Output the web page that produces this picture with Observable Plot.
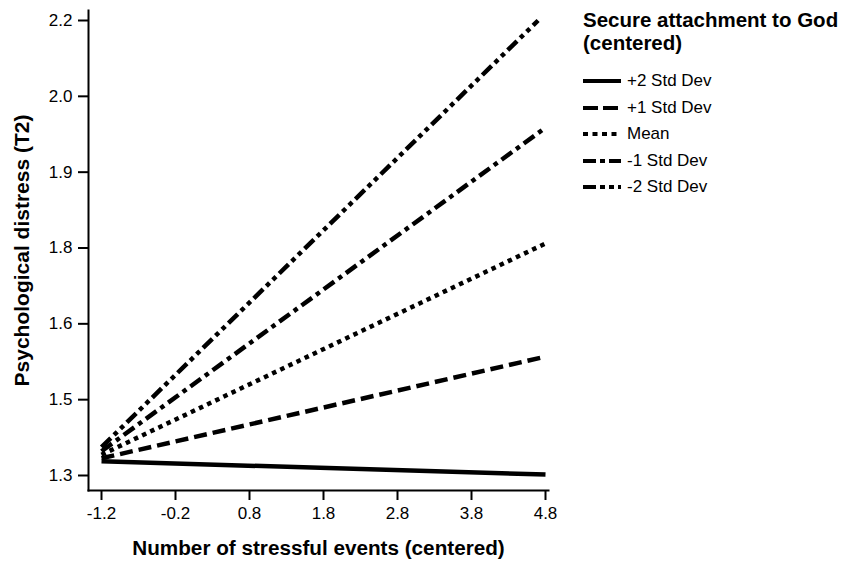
<!DOCTYPE html>
<html>
<head>
<meta charset="utf-8">
<script src="https://cdn.jsdelivr.net/npm/d3@7"></script>
<script src="https://cdn.jsdelivr.net/npm/@observablehq/plot@0.6"></script>
<style>
  html, body { margin: 0; padding: 0; background: #fff; }
  #wrap { position: relative; width: 846px; height: 564px; overflow: hidden; font-family: "Liberation Sans", Arial, sans-serif; }
  #legend { position: absolute; left: 583px; top: 8px; color: #000; white-space: nowrap; }
  #legend .title { font-weight: bold; font-size: 20.5px; line-height: 23px; }
  #legend .item { display: flex; align-items: center; height: 26.5px; font-size: 17px; }
  #legend .item svg { margin-right: 6px; }
</style>
</head>
<body>
<div id="wrap"><div id="chart"></div><div id="legend"></div></div>
<script>
const series = ["+2 Std Dev", "+1 Std Dev", "Mean", "-1 Std Dev", "-2 Std Dev"];
const startX = [-1.2, -1.2, -1.2, -1.2, -1.2];
const endX = [4.8, 4.8, 4.8, 4.8, 4.7];
const startVals = [1.328, 1.334, 1.341, 1.348, 1.356];
const endVals = [1.302, 1.535, 1.759, 1.988, 2.2];
const dashes = ["none", "13,6", "4.5,4.5", "13,5,4.5,5", "13,4.5,4.5,4.5,4.5,4.5"];
const legendDashes = ["none", "15,5", "5,4.5", "13,4,5,4", "13,4,5,4,5,4"];
const xTicks = [-1.2, -0.2, 0.8, 1.8, 2.8, 3.8, 4.8];
const yTicks = [1.3, 1.45, 1.6, 1.75, 1.9, 2.05, 2.2];
const yTickLabels = ["1.3", "1.5", "1.6", "1.8", "1.9", "2.0", "2.2"];
const xLabel = "Number of stressful events (centered)";
const yLabel = "Psychological distress (T2)";
const legendTitle = ["Secure attachment to God", "(centered)"];

const rows = [];
series.forEach((s, i) => {
  rows.push({series: s, x: startX[i], y: startVals[i], i});
  rows.push({series: s, x: endX[i], y: endVals[i], i});
});

const font = "'Liberation Sans', Arial, sans-serif";
const lineMarks = series.map((s, i) =>
  Plot.line(rows.filter(d => d.i === i), {
    x: "x", y: "y", stroke: "#000", strokeWidth: 4.5,
    strokeDasharray: dashes[i], strokeLinecap: "butt"
  })
);

const chart = Plot.plot({
  width: 846,
  height: 564,
  marginLeft: 88,
  marginRight: 298,
  marginTop: 10,
  marginBottom: 74,
  insetLeft: 13,
  insetRight: 3,
  insetTop: 10,
  insetBottom: 15,
  style: {fontFamily: font, background: "#fff", color: "#000"},
  x: {domain: [-1.2, 4.8]},
  y: {domain: [1.3, 2.2]},
  marks: [
    Plot.axisX({ticks: xTicks, tickSize: 10, tickPadding: 6, fontSize: 17, strokeWidth: 2,
      tickFormat: d => d.toFixed(1), label: null}),
    Plot.axisY({ticks: yTicks, tickSize: 10, tickPadding: 6, fontSize: 17, strokeWidth: 2,
      tickFormat: d => yTickLabels[yTicks.indexOf(d)], label: null}),
    Plot.frame({anchor: "left", strokeWidth: 2}),
    Plot.frame({anchor: "bottom", strokeWidth: 2}),
    ...lineMarks,
    Plot.text([xLabel], {frameAnchor: "bottom", dy: 64, fontSize: 20.7, fontWeight: "bold", textAnchor: "middle", text: d => d}),
    Plot.text([yLabel], {frameAnchor: "left", dx: -66, rotate: -90, fontSize: 21, fontWeight: "bold", textAnchor: "middle", text: d => d})
  ]
});
document.getElementById("chart").appendChild(chart);

const legend = document.getElementById("legend");
legendTitle.forEach(t => {
  const el = document.createElement("div");
  el.className = "title";
  el.textContent = t;
  legend.appendChild(el);
});
const spacer = document.createElement("div");
spacer.style.height = "14px";
legend.appendChild(spacer);
series.forEach((s, i) => {
  const item = document.createElement("div");
  item.className = "item";
  const ns = "http://www.w3.org/2000/svg";
  const svg = document.createElementNS(ns, "svg");
  svg.setAttribute("width", 38);
  svg.setAttribute("height", 10);
  const ln = document.createElementNS(ns, "line");
  ln.setAttribute("x1", 0); ln.setAttribute("x2", 38);
  ln.setAttribute("y1", 5); ln.setAttribute("y2", 5);
  ln.setAttribute("stroke", "#000");
  ln.setAttribute("stroke-width", 4);
  if (legendDashes[i] !== "none") ln.setAttribute("stroke-dasharray", legendDashes[i]);
  svg.appendChild(ln);
  item.appendChild(svg);
  const label = document.createElement("span");
  label.textContent = s;
  item.appendChild(label);
  legend.appendChild(item);
});
</script>
</body>
</html>
